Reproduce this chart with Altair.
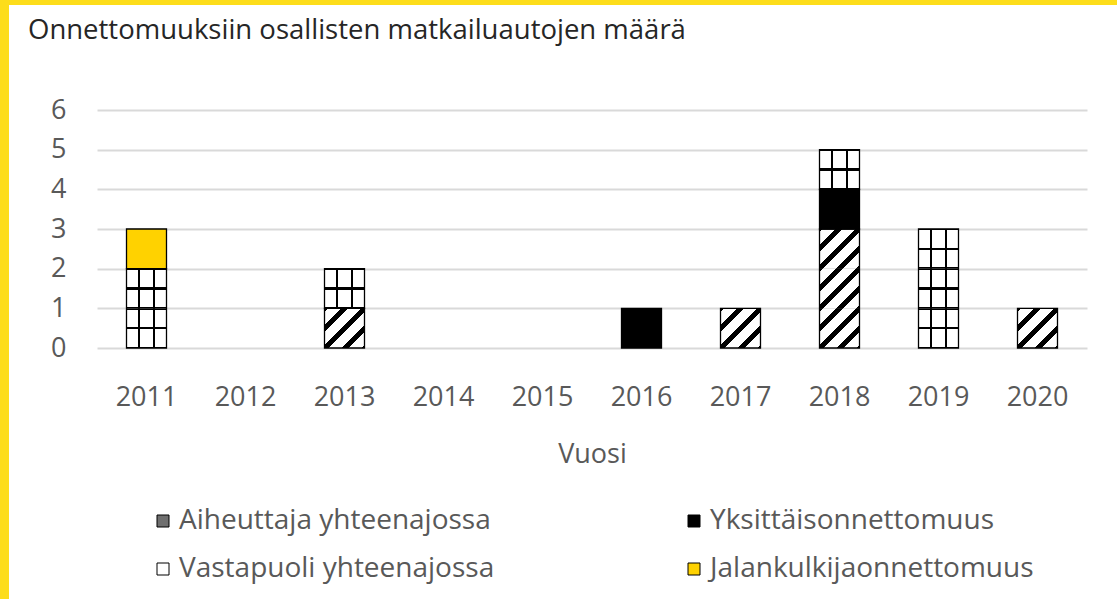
import altair as alt
import pandas as pd

years = ["2011", "2012", "2013", "2014", "2015", "2016", "2017", "2018", "2019", "2020"]
categories = ["Aiheuttaja yhteenajossa", "Yksittäisonnettomuus", "Vastapuoli yhteenajossa", "Jalankulkijaonnettomuus"]
aiheuttaja = [0, 0, 1, 0, 0, 0, 1, 3, 0, 1]
yksittais = [0, 0, 0, 0, 0, 1, 0, 1, 0, 0]
vastapuoli = [2, 0, 1, 0, 0, 0, 0, 1, 3, 0]
jalankulkija = [1, 0, 0, 0, 0, 0, 0, 0, 0, 0]
legend_colors = ["#6f6f6f", "#000000", "#ffffff", "#ffd200"]
title_text = "Onnettomuuksiin osallisten matkailuautojen määrä"

series = [aiheuttaja, yksittais, vastapuoli, jalankulkija]
rows = []
for ci, (cat, vals) in enumerate(zip(categories, series)):
    for y, v in zip(years, vals):
        rows.append({"year": y, "category": cat, "order": ci, "count": v})
df = pd.DataFrame(rows)

FONT = "Open Sans"
GRAY = "#595959"
W, H = 990, 238

x_scale = alt.Scale(domain=years, paddingInner=0.596, paddingOuter=0.298)
x_axis = alt.Axis(title="Vuosi", labelAngle=0, ticks=False, domain=False, grid=False,
                  labelFontSize=27, labelColor=GRAY, labelPadding=36, labelFont=FONT,
                  titleFontSize=27, titleColor=GRAY, titleFont=FONT, titleFontWeight="normal",
                  titleX=W / 2, titleY=114, titleBaseline="alphabetic")
y_scale = alt.Scale(domain=[0, 6], nice=False)
y_axis = alt.Axis(title=None, values=[0, 1, 2, 3, 4, 5, 6], ticks=False, domain=False,
                  gridColor="#d9d9d9", gridWidth=2, labelFontSize=27, labelColor=GRAY,
                  labelFont=FONT, labelPadding=31, labelOverlap=False)


def stacked():
    return (alt.Chart(df)
            .transform_filter("datum.count > 0")
            .transform_stack(stack="count", groupby=["year"], as_=["y0", "y1"],
                             sort=[alt.SortField("order", order="ascending")]))


def units(cat):
    return (stacked()
            .transform_filter(alt.datum.category == cat)
            .transform_calculate(u="sequence(datum.y0, datum.y1)")
            .transform_flatten(["u"])
            .transform_calculate(u2="datum.u + 1"))


base = stacked().mark_bar(strokeWidth=0).encode(
    x=alt.X("year:O", scale=x_scale, axis=x_axis),
    y=alt.Y("y0:Q", scale=y_scale, axis=y_axis),
    y2="y1:Q",
    color=alt.Color("category:N", scale=alt.Scale(domain=categories, range=legend_colors),
                    legend=alt.Legend(title=None, orient="none", legendX=52, legendY=397,
                                      direction="horizontal",
                                      columns=2, columnPadding=185, rowPadding=20,
                                      symbolType="square", symbolSize=144,
                                      symbolStrokeColor="black", symbolStrokeWidth=1,
                                      labelFontSize=28, labelColor=GRAY, labelFont=FONT,
                                      labelOffset=2, padding=0, labelLimit=0)),
)

BK = "#000000"
WH = "#ffffff"
TR = "rgba(0,0,0,0)"

# diagonal stripes
N, b = 4, 0.35 / 4
stops = [{"offset": 0, "color": BK}, {"offset": b / 2, "color": BK}, {"offset": b / 2, "color": WH}]
for k in range(1, N + 1):
    a = k / N
    stops += [{"offset": a - b / 2, "color": WH}, {"offset": a - b / 2, "color": BK}]
    if k < N:
        stops += [{"offset": a + b / 2, "color": BK}, {"offset": a + b / 2, "color": WH}]
stops.append({"offset": 1, "color": BK})
diag = {"gradient": "linear", "x1": 0, "y1": 0, "x2": 1, "y2": 1, "stops": stops}

vstops = [{"offset": 0, "color": TR}, {"offset": 0.28, "color": TR}, {"offset": 0.28, "color": BK},
          {"offset": 0.34, "color": BK}, {"offset": 0.34, "color": TR}, {"offset": 0.66, "color": TR},
          {"offset": 0.66, "color": BK}, {"offset": 0.72, "color": BK}, {"offset": 0.72, "color": TR},
          {"offset": 1, "color": TR}]
vgrad = {"gradient": "linear", "x1": 0, "y1": 0, "x2": 1, "y2": 0, "stops": vstops}
hstops = [{"offset": 0, "color": BK}, {"offset": 0.03, "color": BK}, {"offset": 0.03, "color": TR},
          {"offset": 0.47, "color": TR}, {"offset": 0.47, "color": BK}, {"offset": 0.53, "color": BK},
          {"offset": 0.53, "color": TR}, {"offset": 0.97, "color": TR}, {"offset": 0.97, "color": BK},
          {"offset": 1, "color": BK}]
hgrad = {"gradient": "linear", "x1": 0, "y1": 0, "x2": 0, "y2": 1, "stops": hstops}

enc_u = dict(x=alt.X("year:O", scale=x_scale, axis=x_axis),
             y=alt.Y("u:Q", scale=y_scale, axis=y_axis), y2="u2:Q")

diag_layer = units(categories[0]).mark_bar(fill=diag, strokeWidth=0).encode(**enc_u)
vgrid_layer = units(categories[2]).mark_bar(fill=vgrad, strokeWidth=0).encode(**enc_u)
hgrid_layer = units(categories[2]).mark_bar(fill=hgrad, strokeWidth=0).encode(**enc_u)

outline = stacked().mark_bar(fill=TR, stroke="black", strokeWidth=1.3).encode(
    x=alt.X("year:O", scale=x_scale, axis=x_axis),
    y=alt.Y("y0:Q", scale=y_scale, axis=y_axis), y2="y1:Q")

one = pd.DataFrame({"a": [0]})
border_left = alt.Chart(one).mark_rect(color="#fddd1b").encode(
    x=alt.value(-97), x2=alt.value(-88), y=alt.value(-110), y2=alt.value(489))
border_top = alt.Chart(one).mark_rect(color="#fddd1b").encode(
    x=alt.value(-97), x2=alt.value(1020), y=alt.value(-110), y2=alt.value(-105))
title = alt.Chart(one).mark_text(text=title_text, font=FONT, fontSize=27.5, color="#262626",
                                 align="left", baseline="alphabetic").encode(
    x=alt.value(-69), y=alt.value(-71))

chart = alt.layer(base, diag_layer, vgrid_layer, hgrid_layer, outline, border_left, border_top, title).properties(
    width=W, height=H,
    padding={"left": 97, "top": 110, "right": 30, "bottom": 251},
    autosize=alt.AutoSizeParams(type="none"),
    background="white",
).configure_view(stroke=None)

chart.save("out.html", embed_options={"renderer": "svg", "actions": False})
